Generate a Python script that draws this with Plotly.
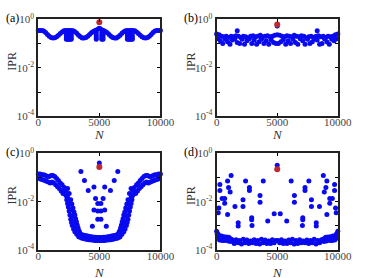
import plotly.graph_objects as go

# ---------------- data ----------------
# panel (a)
a_N = [0,150,300,450,600,750,900,1050,1200,1350,1500,1650,1800,1950,2100,2250,2400,2550,2700,2850,
       3000,3150,3300,3450,3600,3750,3900,4050,4200,4350,4500,4650,4800,4950,5050,5200,5350,5500,5650,5800,
       5950,6100,6250,6400,6550,6700,6850,7000,7150,7300,7450,7600,7750,7900,8050,8200,8350,8500,8650,8800,
       8950,9100,9250,9400,9550,9700,9850,10000]
a_ipr = [0.35,0.35,0.35,0.33,0.29,0.24,0.20,0.18,0.17,0.175,0.19,0.22,0.26,0.30,0.34,0.35,0.35,0.35,0.35,0.34,
         0.31,0.27,0.22,0.19,0.17,0.17,0.18,0.20,0.24,0.28,0.32,0.35,0.37,0.42,0.42,0.37,0.35,0.32,0.28,0.24,
         0.20,0.18,0.17,0.17,0.19,0.22,0.27,0.31,0.34,0.35,0.35,0.35,0.35,0.34,0.30,0.26,0.22,0.19,0.175,0.17,
         0.18,0.20,0.24,0.29,0.33,0.35,0.35,0.35]
a_cl_N = [2300,2300,2300,2300,2400,2400,2400,2400,2500,2500,2500,2500,2600,2600,2600,2600,2700,2700,2700,2700,
          4750,4750,4750,4750,5200,5200,5200,5200,5300,5300,5300,5300,
          7300,7300,7300,7300,7400,7400,7400,7400,7500,7500,7500,7500,7600,7600,7600,7600,7700,7700,7700,7700]
a_cl_ipr = [0.28,0.22,0.18,0.15,0.28,0.22,0.18,0.15,0.28,0.22,0.18,0.15,0.28,0.22,0.18,0.15,0.28,0.22,0.18,0.15,
            0.28,0.22,0.18,0.15,0.28,0.22,0.18,0.15,0.28,0.22,0.18,0.15,
            0.28,0.22,0.18,0.15,0.28,0.22,0.18,0.15,0.28,0.22,0.18,0.15,0.28,0.22,0.18,0.15,0.28,0.22,0.18,0.15]
a_red_N, a_red_ipr = [5000], [0.76]

# panel (b)
b_up_N = [0,200,400,600,800,1000,1200,1400,1600,1800,2000,2200,2400,2600,2800,3000,3200,3400,3600,3800,
          4000,4200,4400,4600,4800,5000,5200,5400,5600,5800,6000,6200,6400,6600,6800,7000,7200,7400,7600,7800,
          8000,8200,8400,8600,8800,9000,9200,9400,9600,9800,10000]
b_up_ipr = [0.25,0.23,0.20,0.19,0.20,0.18,0.20,0.19,0.21,0.20,0.18,0.20,0.19,0.17,0.20,0.21,0.19,0.20,0.22,0.19,
            0.20,0.21,0.19,0.20,0.22,0.23,0.22,0.20,0.19,0.21,0.20,0.19,0.22,0.20,0.19,0.21,0.20,0.17,0.19,0.20,
            0.18,0.20,0.21,0.19,0.20,0.18,0.20,0.19,0.20,0.23,0.25]
b_lo_N = [100,300,500,700,900,1100,1300,1500,1700,1900,2100,2300,2500,2700,2900,3100,3300,3500,3700,3900,
          4100,4300,4500,4700,4900,5100,5300,5500,5700,5900,6100,6300,6500,6700,6900,7100,7300,7500,7700,7900,
          8100,8300,8500,8700,8900,9100,9300,9500,9700,9900]
b_lo_ipr = [0.16,0.13,0.10,0.15,0.12,0.095,0.14,0.16,0.11,0.10,0.15,0.095,0.13,0.16,0.10,0.14,0.095,0.12,0.15,0.10,
            0.13,0.095,0.14,0.11,0.10,0.10,0.12,0.14,0.095,0.13,0.10,0.15,0.11,0.095,0.16,0.13,0.095,0.15,0.10,0.12,
            0.16,0.14,0.095,0.10,0.16,0.12,0.095,0.15,0.13,0.16]
b_iso_N = [1700, 8300, 5000]
b_iso_ipr = [0.34, 0.34, 0.53]
b_red_N, b_red_ipr = [5000], [0.62]

# panel (c)
c_plat_N = [0,150,300,450,600,750,900,1050,1200,1350,1500,1650,1800,1950,
            75,225,375,525,675,825,975,1125,1275,1425,1575,1725,1875,2025,
            10000,9850,9700,9550,9400,9250,9100,8950,8800,8650,8500,8350,8200,8050,
            9925,9775,9625,9475,9325,9175,9025,8875,8725,8575,8425,8275,8125,7975]
c_plat_ipr = [0.14,0.14,0.13,0.13,0.12,0.11,0.11,0.12,0.12,0.11,0.09,0.075,0.06,0.05,
              0.09,0.085,0.08,0.075,0.07,0.065,0.06,0.065,0.06,0.05,0.042,0.035,0.028,0.022,
              0.14,0.14,0.13,0.13,0.12,0.11,0.11,0.12,0.12,0.11,0.09,0.075,0.06,0.05,
              0.09,0.085,0.08,0.075,0.07,0.065,0.06,0.065,0.06,0.05,0.042,0.035,0.028,0.022]
c_wall_N = [2135,2200,2265,2330,2396,2460,2526,2590,2656,2720,2786,2890,2995,3150,3307,
            2400,2530,2656,2750,2838,2920,2995,3060,3125,3190,3255,3320,3385,3470,3568,
            2270,2400,2530,2656,2786,2900,3000,3100,3200,3300,
            7865,7800,7735,7670,7604,7540,7474,7410,7344,7280,7214,7110,7005,6850,6693,
            7600,7470,7344,7250,7162,7080,7005,6940,6875,6810,6745,6680,6615,6530,6432,
            7730,7600,7470,7344,7214,7100,7000,6900,6800,6700]
c_wall_ipr = [0.039,0.028,0.018,0.012,0.0085,0.006,0.0041,0.0028,0.0019,0.0014,0.00105,7.5e-4,5.8e-4,4.5e-4,3.6e-4,
              0.035,0.022,0.012,0.008,0.0055,0.0038,0.0028,0.002,0.0015,0.0011,8.5e-4,6.5e-4,5.5e-4,4.5e-4,4e-4,
              0.03,0.015,0.008,0.0045,0.0025,0.0015,0.001,8e-4,6e-4,5e-4,
              0.039,0.028,0.018,0.012,0.0085,0.006,0.0041,0.0028,0.0019,0.0014,0.00105,7.5e-4,5.8e-4,4.5e-4,3.6e-4,
              0.035,0.022,0.012,0.008,0.0055,0.0038,0.0028,0.002,0.0015,0.0011,8.5e-4,6.5e-4,5.5e-4,4.5e-4,4e-4,
              0.03,0.015,0.008,0.0045,0.0025,0.0015,0.001,8e-4,6e-4,5e-4]
c_bot_N = [3400,3530,3660,3790,3920,4050,4180,4310,4440,4570,4700,4830,4960,5090,5220,5350,5480,5610,5740,5870,
           6000,6130,6260,6390,6520,6650,
           3465,3595,3725,3855,3985,4115,4245,4375,4505,4635,4765,4895,5025,5155,5285,5415,5545,5675,5805,5935,
           6065,6195,6325,6455,6585]
c_bot_ipr = [4.5e-4,4.3e-4,4.2e-4,4.0e-4,3.9e-4,3.8e-4,3.7e-4,3.6e-4,3.5e-4,3.4e-4,3.4e-4,3.3e-4,3.3e-4,3.3e-4,
             3.3e-4,3.4e-4,3.4e-4,3.5e-4,3.6e-4,3.7e-4,3.8e-4,3.9e-4,4.0e-4,4.2e-4,4.3e-4,4.5e-4,
             3.3e-4,3.1e-4,3.0e-4,2.9e-4,2.8e-4,2.7e-4,2.7e-4,2.6e-4,2.6e-4,2.5e-4,2.5e-4,2.5e-4,2.5e-4,2.5e-4,
             2.5e-4,2.5e-4,2.6e-4,2.6e-4,2.7e-4,2.7e-4,2.8e-4,2.9e-4,3.0e-4,3.1e-4,3.3e-4]
c_sc_N = [3490,3780,4090,4560,4690,4560,4430,4870,4870,4870,
          6510,6220,5910,5440,5310,5440,5570,5130,5130,5130, 5000]
c_sc_ipr = [0.175,0.075,0.029,0.041,0.0135,0.0045,0.00096,0.0085,0.0041,0.0019,
            0.175,0.075,0.029,0.041,0.0135,0.0045,0.00096,0.0085,0.0041,0.0019, 0.40]
c_red_N, c_red_ipr = [5000], [0.27]

# panel (d)
d_band_N = [1300,1450,1600,1750,1900,2050,2200,2350,2500,2650,2800,2950,3100,3250,3400,3550,3700,3850,4000,4150,
            4300,4450,4600,4750,4900,5050,5200,5350,5500,5650,5800,5950,6100,6250,6400,6550,6700,6850,7000,7150,
            7300,7450,7600,7750,7900,8050,8200,8350,8500,8650]
d_band_ipr = [2.6e-4,1.9e-4,2.7e-4,2.0e-4,2.5e-4,1.8e-4,2.8e-4,2.0e-4,2.6e-4,1.9e-4,2.4e-4,2.0e-4,2.7e-4,1.9e-4,
              2.5e-4,1.8e-4,2.8e-4,2.0e-4,2.6e-4,1.9e-4,2.4e-4,1.9e-4,2.7e-4,2.0e-4,2.5e-4,2.5e-4,2.0e-4,2.7e-4,
              1.9e-4,2.4e-4,1.9e-4,2.6e-4,2.0e-4,2.8e-4,1.8e-4,2.5e-4,1.9e-4,2.7e-4,2.0e-4,2.4e-4,2.0e-4,2.6e-4,
              1.9e-4,2.5e-4,2.0e-4,2.8e-4,1.8e-4,2.5e-4,2.0e-4,2.7e-4]
d_edge_N = [0,100,200,300,400,500,600,700,800,900,1000,1100,1200,
            8800,8900,9000,9100,9200,9300,9400,9500,9600,9700,9800,9900,10000,
            50,150,250,350,450,550,650,750,850,950,1050,1150,
            8850,8950,9050,9150,9250,9350,9450,9550,9650,9750,9850,9950]
d_edge_ipr = [6e-4,4.8e-4,4e-4,3.4e-4,3.8e-4,3.2e-4,3.6e-4,3.3e-4,3.5e-4,3.1e-4,3.4e-4,3.0e-4,2.8e-4,
              2.8e-4,3.0e-4,3.4e-4,3.1e-4,3.5e-4,3.3e-4,3.6e-4,3.2e-4,3.8e-4,3.4e-4,4.0e-4,4.8e-4,6e-4,
              4.5e-4,3.0e-4,2.6e-4,2.8e-4,2.5e-4,2.7e-4,2.5e-4,2.8e-4,2.6e-4,2.4e-4,2.6e-4,2.3e-4,
              2.3e-4,2.6e-4,2.4e-4,2.6e-4,2.8e-4,2.5e-4,2.7e-4,2.5e-4,2.8e-4,2.6e-4,3.0e-4,4.5e-4]
d_sc_N = [133,186,265,265,451,663,663,902,982,902,1114,1194,1512,1777,1777,2175,2175,2388,2706,2706,
          2892,2892,2920,3582,3582,3847,4218,4749,
          9867,9814,9735,9735,9549,9337,9337,9098,9018,9098,8886,8806,8488,8223,8223,7825,7825,7612,7294,7294,
          7108,7108,7080,6418,6418,6153,5782,5251, 5000]
d_sc_ipr = [0.0035,0.0055,0.052,0.029,0.0135,0.0135,0.0086,0.071,0.039,0.003,0.025,0.122,0.0063,0.00134,0.001,
            0.012,0.0063,0.071,0.039,0.029,0.0022,0.0018,0.00105,0.018,0.0094,0.071,0.0016,0.0032,
            0.0035,0.0055,0.052,0.029,0.0135,0.0135,0.0086,0.071,0.039,0.003,0.025,0.122,0.0063,0.00134,0.001,
            0.012,0.0063,0.071,0.039,0.029,0.0022,0.0018,0.00105,0.018,0.0094,0.071,0.0016,0.0032, 0.32]
d_red_N, d_red_ipr = [5000], [0.22]

x_ticks = [0, 5000, 10000]
x_ticktext = ["0", "5000", "10000"]
y_ticks = [1e-4, 1e-3, 1e-2, 1e-1, 1]
y_ticktext = ["10<sup>-4</sup>", "", "10<sup>-2</sup>", "", "10<sup>0</sup>"]
panel_labels = ["(a)", "(b)", "(c)", "(d)"]

# ---------------- figure ----------------
W, H = 368, 278
BLUE = "#0a0af0"
RED = "#c0282d"
FONT = "Liberation Serif"

fig = go.Figure()

def add(xs, ys, k, color=BLUE, size=5):
    fig.add_trace(go.Scatter(
        x=xs, y=ys, mode="markers", xaxis="x" if k == 1 else f"x{k}",
        yaxis="y" if k == 1 else f"y{k}",
        marker=dict(color=color, size=size, line=dict(width=0)),
        cliponaxis=False, showlegend=False, hoverinfo="skip"))

add(a_N, a_ipr, 1); add(a_cl_N, a_cl_ipr, 1); add(a_red_N, a_red_ipr, 1, RED, 6)
add(b_up_N, b_up_ipr, 2); add(b_lo_N, b_lo_ipr, 2); add(b_iso_N, b_iso_ipr, 2); add(b_red_N, b_red_ipr, 2, RED, 6)
add(c_plat_N, c_plat_ipr, 3); add(c_wall_N, c_wall_ipr, 3); add(c_bot_N, c_bot_ipr, 3)
add(c_sc_N, c_sc_ipr, 3); add(c_red_N, c_red_ipr, 3, RED, 6)
add(d_band_N, d_band_ipr, 4); add(d_edge_N, d_edge_ipr, 4); add(d_sc_N, d_sc_ipr, 4); add(d_red_N, d_red_ipr, 4, RED, 6)

def px_x(p): return p / W
def px_y(p): return 1 - p / H

col_x = [(37, 165), (224, 351)]
row_y = [(12, 114), (153, 255)]
layout = dict(width=W, height=H, margin=dict(l=0, r=0, t=0, b=0), autosize=False,
              paper_bgcolor="white", plot_bgcolor="white",
              font=dict(family=FONT, size=11, color="#333"))
annotations = []
for k in range(1, 5):
    cx = col_x[(k - 1) % 2]
    ry = row_y[(k - 1) // 2]
    xname = "xaxis" if k == 1 else f"xaxis{k}"
    yname = "yaxis" if k == 1 else f"yaxis{k}"
    anc_x = "x" if k == 1 else f"x{k}"
    anc_y = "y" if k == 1 else f"y{k}"
    layout[xname] = dict(domain=[px_x(cx[0]), px_x(cx[1])], anchor=anc_y, range=[0, 10000],
                         tickvals=x_ticks, ticktext=x_ticktext, ticks="inside", ticklen=3,
                         tickcolor="black", showline=True, linewidth=2, linecolor="#222",
                         mirror="ticks", showgrid=False, zeroline=False, ticklabelstandoff=-5,
                         tickfont=dict(family=FONT, size=11, color="#444"))
    layout[yname] = dict(domain=[px_y(ry[1]), px_y(ry[0])], anchor=anc_x, type="log", range=[-4, 0],
                         tickvals=y_ticks, ticktext=y_ticktext, ticks="inside", ticklen=3,
                         tickcolor="black", showline=True, linewidth=2, linecolor="#222",
                         mirror="ticks", showgrid=False, zeroline=False,
                         tickfont=dict(family=FONT, size=11, color="#444"))
    # panel label
    annotations.append(dict(text=panel_labels[k - 1], xref="paper", yref="paper",
                            x=px_x(cx[0] - 36), y=px_y(ry[0] - 1), xanchor="left", yanchor="middle",
                            showarrow=False, font=dict(family=FONT, size=12, color="black")))
    # y title
    annotations.append(dict(text="IPR", xref="paper", yref="paper", textangle=-90,
                            x=px_x(cx[0] - 27), y=px_y((ry[0] + ry[1]) / 2 - 7),
                            xanchor="center", yanchor="middle", showarrow=False,
                            font=dict(family=FONT, size=12, color="#333")))
    # x title
    annotations.append(dict(text="<i>N</i>", xref="paper", yref="paper",
                            x=px_x((cx[0] + cx[1]) / 2), y=px_y(ry[1] + (19 if k <= 2 else 23)),
                            xanchor="center", yanchor="middle", showarrow=False,
                            font=dict(family=FONT, size=13, color="#333")))
layout["annotations"] = annotations
fig.update_layout(**layout)
fig.write_html("out.html")
